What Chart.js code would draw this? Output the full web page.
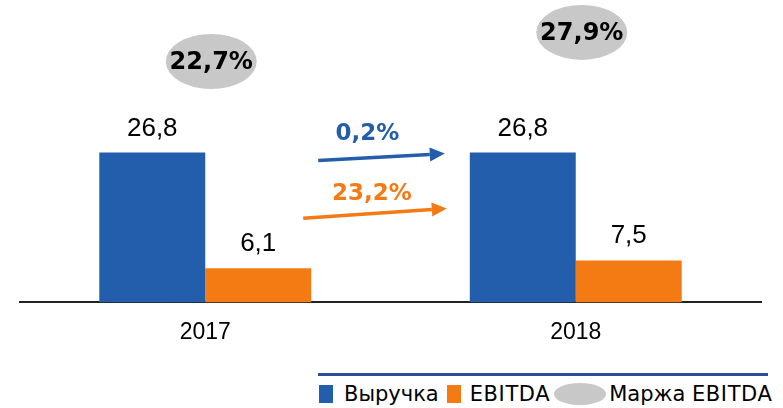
<!DOCTYPE html>
<html lang="ru">
<head>
<meta charset="utf-8">
<title>Выручка и EBITDA</title>
<script src="https://cdn.jsdelivr.net/npm/chart.js@4.4.1/dist/chart.umd.min.js"></script>
<style>
  html, body { margin: 0; padding: 0; background: #fff; }
  body { width: 783px; height: 408px; position: relative; overflow: hidden; }
  #chartBox { position: absolute; left: 0; top: 0; width: 783px; height: 362px; }
  #legendLine { position: absolute; left: 318px; top: 373px; width: 450px; height: 3px; background: #2e4e9a; }
  #legend {
    position: absolute; left: 318px; top: 382px; height: 24px;
    display: flex; align-items: center; white-space: nowrap;
    font-family: "DejaVu Sans", sans-serif; font-size: 21px; color: #000;
  }
  .lat { letter-spacing: 0.6px; }
  .sw { display: inline-block; width: 14px; height: 18px; }
  .sw-oval { display: inline-block; width: 52px; height: 22px; border-radius: 50%; background: #c8c8c8; }
</style>
</head>
<body>
<div id="chartBox"><canvas id="chart"></canvas></div>
<div id="legendLine"></div>
<div id="legend">
  <span class="sw" style="background:#225eac;margin-left:1px"></span>
  <span style="margin-left:11px">Выручка</span>
  <span class="sw" style="background:#f47a14;margin-left:8px"></span>
  <span class="lat" style="margin-left:9px">EBITDA</span>
  <span class="sw-oval" style="margin-left:4px"></span>
  <span style="margin-left:3px">Маржа <span class="lat">EBITDA</span></span>
</div>
<script>
const years = ["2017", "2018"];
const revenue = [26.8, 26.8];
const ebitda = [6.1, 7.5];
const margin = [22.7, 27.9];
const revenueGrowth = "0,2%";
const ebitdaGrowth = "23,2%";

const BLUE = "#225eac";
const ORANGE = "#f47a14";
const GREY = "#c8c8c8";

function fmt(v) {
  return v.toFixed(1).replace(".", ",");
}

function arrow(ctx, x1, y1, x2, y2, color) {
  const ang = Math.atan2(y2 - y1, x2 - x1);
  const head = 15, half = 7;
  const bx = x2 - head * Math.cos(ang), by = y2 - head * Math.sin(ang);
  ctx.save();
  ctx.strokeStyle = color;
  ctx.fillStyle = color;
  ctx.lineWidth = 3.5;
  ctx.beginPath();
  ctx.moveTo(x1, y1);
  ctx.lineTo(bx, by);
  ctx.stroke();
  ctx.beginPath();
  ctx.moveTo(x2, y2);
  ctx.lineTo(bx + half * Math.sin(ang), by - half * Math.cos(ang));
  ctx.lineTo(bx - half * Math.sin(ang), by + half * Math.cos(ang));
  ctx.closePath();
  ctx.fill();
  ctx.restore();
}

// value labels, margin ovals and growth arrows
const decorations = {
  id: "decorations",
  afterDatasetsDraw(chart) {
    const ctx = chart.ctx;
    const x = chart.scales.x;
    const y2 = chart.scales.y2;
    const blueBars = chart.getDatasetMeta(0).data;
    const orangeBars = chart.getDatasetMeta(1).data;

    ctx.save();
    ctx.fillStyle = "#000";
    ctx.font = "26px 'Liberation Sans', Arial, sans-serif";
    ctx.textAlign = "center";
    ctx.textBaseline = "alphabetic";
    [blueBars, orangeBars].forEach((bars, di) => {
      const vals = di === 0 ? revenue : ebitda;
      bars.forEach((b, i) => {
        ctx.fillText(fmt(vals[i]), b.x, b.y - 17);
      });
    });

    // margin ovals
    margin.forEach((m, i) => {
      const cx = x.getPixelForValue(i) + 6;
      const cy = y2.getPixelForValue(m);
      ctx.fillStyle = GREY;
      ctx.beginPath();
      ctx.ellipse(cx, cy, 45.5, 27.5, 0, 0, Math.PI * 2);
      ctx.fill();
      ctx.fillStyle = "#000";
      ctx.font = "bold 24px 'DejaVu Sans', sans-serif";
      ctx.textBaseline = "middle";
      ctx.fillText(fmt(m) + "%", cx, cy + 1);
    });

    // growth arrows between the years
    const gapL = orangeBars[0].x + orangeBars[0].width / 2;
    const gapR = blueBars[1].x - blueBars[1].width / 2;

    let ax1 = gapL + 7, ay1 = blueBars[0].y + 8;
    let ax2 = gapR - 25, ay2 = blueBars[1].y + 1;
    arrow(ctx, ax1, ay1, ax2, ay2, BLUE);
    ctx.fillStyle = BLUE;
    ctx.font = "bold 23px 'DejaVu Sans', sans-serif";
    ctx.fillText(revenueGrowth, (ax1 + ax2) / 2 - 14, (ay1 + ay2) / 2 - 23);

    ax1 = gapL - 8; ay1 = orangeBars[0].y - 50;
    ax2 = gapR - 23; ay2 = orangeBars[1].y - 52;
    arrow(ctx, ax1, ay1, ax2, ay2, ORANGE);
    ctx.fillStyle = ORANGE;
    ctx.fillText(ebitdaGrowth, (ax1 + ax2) / 2 - 3, (ay1 + ay2) / 2 - 19);
    ctx.restore();
  },
};

new Chart(document.getElementById("chart"), {
  type: "bar",
  data: {
    labels: years,
    datasets: [
      { label: "Выручка", data: revenue, backgroundColor: BLUE },
      { label: "EBITDA", data: ebitda, backgroundColor: ORANGE },
    ],
  },
  options: {
    responsive: true,
    maintainAspectRatio: false,
    animation: false,
    layout: { padding: { left: 20, right: 22, top: 0, bottom: 0 } },
    datasets: { bar: { categoryPercentage: 0.572, barPercentage: 1 } },
    scales: {
      x: {
        grid: { display: false, drawTicks: false },
        border: { display: true, color: "#222", width: 2 },
        ticks: {
          color: "#000",
          padding: 16,
          font: { family: "'Liberation Sans', Arial, sans-serif", size: 23 },
        },
      },
      y: { display: false, min: 0, max: 54.1 },
      y2: { display: false, min: -20.4, max: 33.7 },
    },
    plugins: {
      legend: { display: false },
      tooltip: { enabled: false },
    },
  },
  plugins: [decorations],
});
</script>
</body>
</html>
